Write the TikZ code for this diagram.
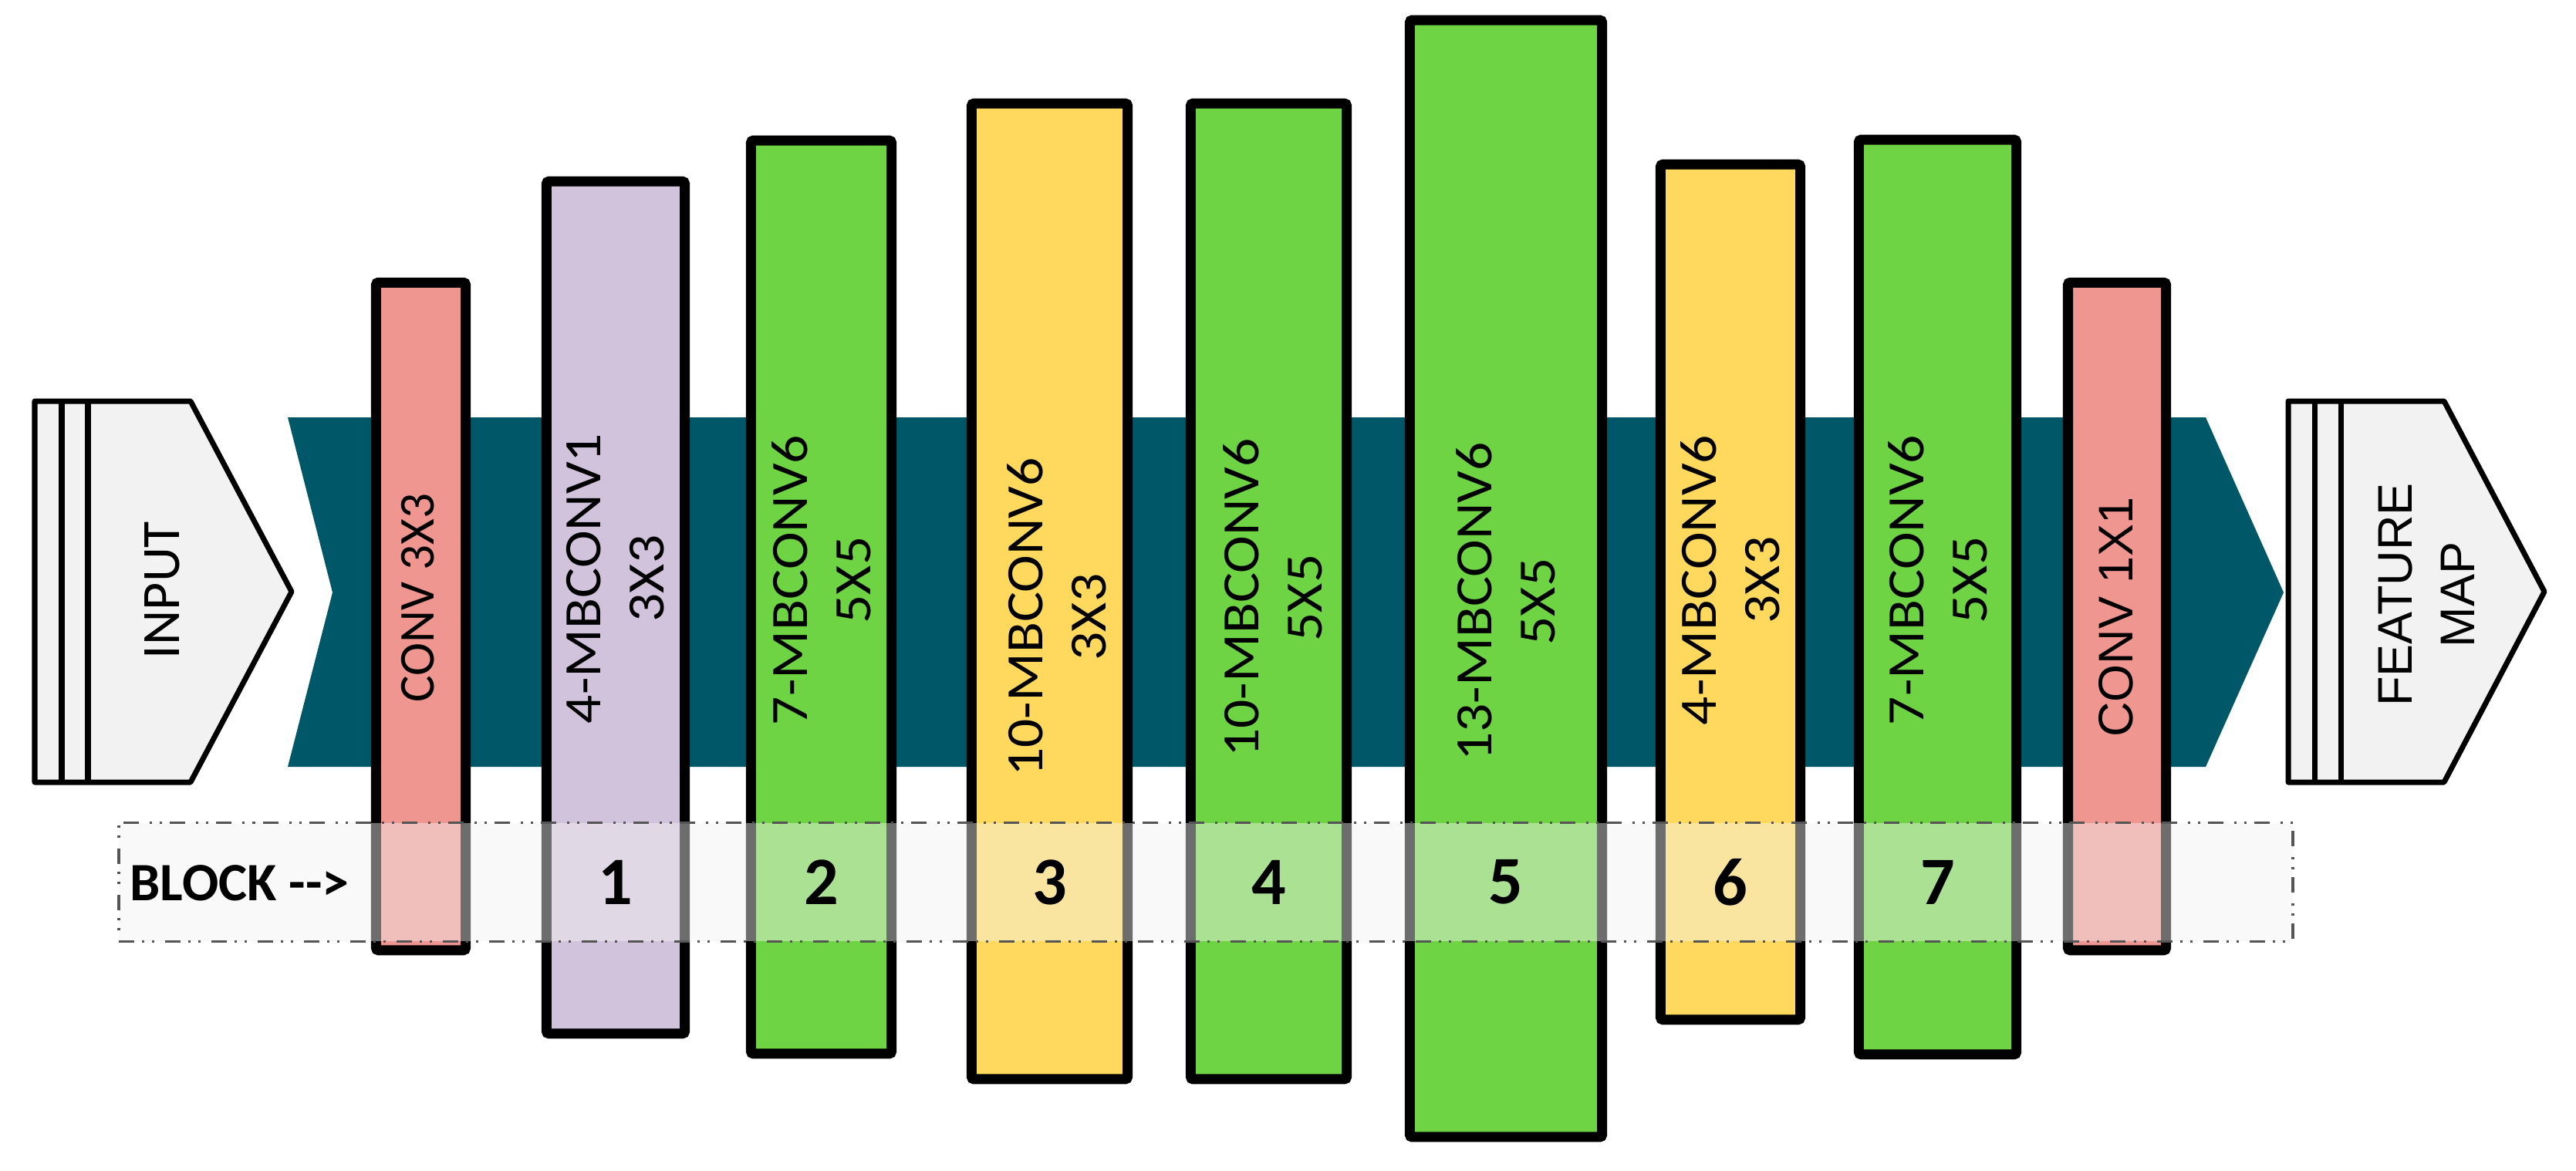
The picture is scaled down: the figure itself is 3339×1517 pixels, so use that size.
\documentclass[tikz,border=0pt]{standalone}
\usepackage{fontspec}
\setmainfont{Carlito}
\newfontfamily\arialf{Liberation Sans}
\definecolor{teal0}{RGB}{0,87,104}
\definecolor{redf}{RGB}{239,150,144}
\definecolor{lavf}{RGB}{210,195,220}
\definecolor{greenf}{RGB}{111,212,68}
\definecolor{yellf}{RGB}{255,217,94}
\definecolor{grayf}{RGB}{242,242,242}
\definecolor{dashc}{RGB}{85,85,85}
\newcommand\wl[1]{\scalebox{1.08}[1]{#1}}
\begin{document}
\begin{tikzpicture}[x=0.01cm,y=-0.01cm,
  blockbox/.style={draw=black, line width=0.13cm, rounded corners=0.03cm, inner sep=0, outer sep=0, rectangle},
  boxlabel/.style={rotate=90, align=center, font=\fontsize{0.68cm}{0.82cm}\selectfont, inner sep=0},
  numlabel/.style={font=\bfseries\fontsize{0.88cm}{1cm}\selectfont, inner sep=0},
  endshape/.style={draw=black, fill=grayf, line width=0.07cm, line join=round},
  rowbox/.style={draw=dashc, line width=0.035cm, fill=grayf, fill opacity=0.45, inner sep=0, rectangle,
    dash pattern=on 0.2cm off 0.1cm on 0.03cm off 0.1cm on 0.03cm off 0.14cm}]
\useasboundingbox (0,0) rectangle (3339,1517);
% main teal arrow
\fill[teal0] (373,541) -- (2859,541) -- (2960,768) -- (2859,994) -- (373,994) -- (431,768) -- cycle;
% input shape
\draw[endshape] (45,520) -- (247,520) -- (378,767) -- (247,1014) -- (45,1014) -- cycle;
\draw[endshape] (80,520) -- (80,1014) (114,520) -- (114,1014);
\node[rotate=90, font=\fontsize{0.7cm}{0.8cm}\selectfont, inner sep=0] (inp) at (210,765) {INPUT};
% feature map shape
\draw[endshape] (2966,520) -- (3168,520) -- (3298,767) -- (3168,1014) -- (2966,1014) -- cycle;
\draw[endshape] (3000,520) -- (3000,1014) (3034,520) -- (3034,1014);
\node[rotate=90, align=center, font=\arialf\fontsize{0.63cm}{0.81cm}\selectfont, inner sep=0] (feat) at (3145,771) {FEATURE\\MAP};
% boxes
\node[blockbox, fill=redf, minimum width=1.16cm, minimum height=8.65cm] (c0) at (545.5,799) {};
\node[blockbox, fill=lavf, minimum width=1.79cm, minimum height=11.04cm] (b1) at (798,787.5) {};
\node[blockbox, fill=greenf, minimum width=1.82cm, minimum height=11.83cm] (b2) at (1064.5,774) {};
\node[blockbox, fill=yellf, minimum width=2.02cm, minimum height=12.64cm] (b3) at (1360.5,766.5) {};
\node[blockbox, fill=greenf, minimum width=2.02cm, minimum height=12.64cm] (b4) at (1644.5,766.5) {};
\node[blockbox, fill=greenf, minimum width=2.49cm, minimum height=14.47cm] (b5) at (1952,750) {};
\node[blockbox, fill=yellf, minimum width=1.81cm, minimum height=11.08cm] (b6) at (2243,767.5) {};
\node[blockbox, fill=greenf, minimum width=2.04cm, minimum height=11.85cm] (b7) at (2511.5,774) {};
\node[blockbox, fill=redf, minimum width=1.27cm, minimum height=8.65cm] (c9) at (2744,799) {};
% box labels
\node[rotate=90, font=\fontsize{0.65cm}{0.8cm}\selectfont, inner sep=0] (t0) at (542,775) {CONV 3X3};
\node[boxlabel] (t1) at (798,750) {\wl{4-MBCONV1}\\\wl{3X3}};
\node[boxlabel] (t2) at (1064.5,752) {\wl{7-MBCONV6}\\\wl{5X5}};
\node[boxlabel] (t3) at (1370,800) {\wl{10-MBCONV6}\\\wl{3X3}};
\node[boxlabel] (t4) at (1650,775) {\wl{10-MBCONV6}\\\wl{5X5}};
\node[boxlabel] (t5) at (1952,780) {\wl{13-MBCONV6}\\\wl{5X5}};
\node[boxlabel] (t6) at (2243,752) {\wl{4-MBCONV6}\\\wl{3X3}};
\node[boxlabel] (t7) at (2511.5,752) {\wl{7-MBCONV6}\\\wl{5X5}};
\node[rotate=90, font=\arialf\fontsize{0.63cm}{0.8cm}\selectfont, inner sep=0] (t9) at (2743,800) {CONV 1X1};
% block row
\node[rowbox, minimum width=28.165cm, minimum height=1.535cm] (row) at (1563,1143.5) {};
\node[font=\bfseries\fontsize{0.7cm}{0.8cm}\selectfont, anchor=west, inner sep=0] (blk) at (168,1145) {BLOCK {-}{-}>};
\node[numlabel] (n1) at (b1 |- row) {1};
\node[numlabel] (n2) at (b2 |- row) {2};
\node[numlabel] (n3) at (b3 |- row) {3};
\node[numlabel] (n4) at (b4 |- row) {4};
\node[numlabel] (n5) at (b5 |- row) {5};
\node[numlabel] (n6) at (b6 |- row) {6};
\node[numlabel] (n7) at (b7 |- row) {7};
\end{tikzpicture}
\end{document}
